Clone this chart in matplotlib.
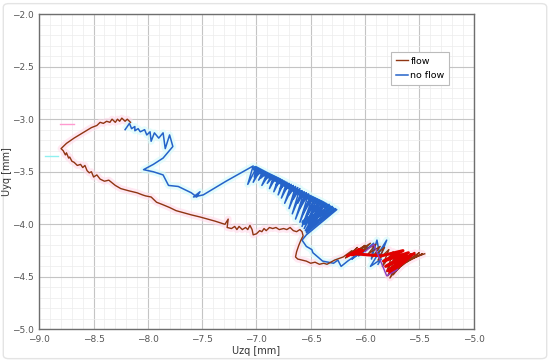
import matplotlib
matplotlib.use("Agg")
import matplotlib.pyplot as plt
from matplotlib.patches import FancyBboxPatch
from matplotlib.ticker import FuncFormatter

# ---- data ----
flow_x = [-8.16, -8.19, -8.21, -8.24, -8.26, -8.28, -8.30, -8.33, -8.35, -8.38, -8.41, -8.44, -8.47, -8.52,
          -8.60, -8.68, -8.75, -8.80,
          -8.78, -8.76, -8.75, -8.73, -8.72, -8.70, -8.68, -8.65, -8.62, -8.60, -8.58, -8.56, -8.54,
          -8.52, -8.50, -8.47, -8.44, -8.40, -8.36, -8.30, -8.25, -8.18, -8.10, -8.05, -8.02, -7.97,
          -7.92, -7.87, -7.80, -7.74, -7.67, -7.60, -7.52, -7.45, -7.38, -7.32, -7.29, -7.26, -7.27,
          -7.23, -7.20, -7.18, -7.16, -7.13, -7.10, -7.08, -7.06, -7.04, -7.03, -7.00, -6.97, -6.95,
          -6.93, -6.91, -6.88, -6.85, -6.82, -6.79, -6.75, -6.72, -6.69, -6.66, -6.63, -6.60, -6.58,
          -6.57, -6.59, -6.61, -6.63, -6.64, -6.62, -6.58, -6.54, -6.50, -6.46, -6.42, -6.38, -6.35,
          -6.28, -6.20, -6.12, -6.18, -6.07, -6.15, -6.00, -6.10, -5.95, -6.03, -5.90, -5.97, -5.86,
          -5.93, -5.82, -5.88, -5.78, -5.84, -5.74, -5.80, -5.70, -5.79, -5.66, -5.77, -5.62, -5.74,
          -5.58, -5.71, -5.54, -5.67, -5.50, -5.62, -5.47, -5.58, -5.45]
flow_y = [-3.03, -3.00, -3.02, -2.99, -3.02, -3.00, -3.03, -3.00, -3.03, -3.02, -3.04, -3.03, -3.06, -3.08,
          -3.13, -3.18, -3.23, -3.28,
          -3.30, -3.34, -3.32, -3.37, -3.36, -3.40, -3.41, -3.44, -3.43, -3.46, -3.44, -3.49, -3.51,
          -3.50, -3.55, -3.53, -3.57, -3.59, -3.58, -3.63, -3.66, -3.68, -3.70, -3.72, -3.73, -3.74,
          -3.79, -3.81, -3.84, -3.87, -3.89, -3.91, -3.93, -3.95, -3.97, -3.99, -4.00, -3.95, -4.03,
          -4.04, -4.02, -4.05, -4.02, -4.05, -4.03, -4.05, -4.01, -4.05, -4.10, -4.09, -4.06, -4.07,
          -4.04, -4.06, -4.03, -4.04, -4.03, -4.05, -4.04, -4.05, -4.03, -4.06, -4.07, -4.05, -4.07,
          -4.11, -4.15, -4.20, -4.26, -4.31, -4.33, -4.34, -4.35, -4.37, -4.36, -4.38, -4.37, -4.38,
          -4.34, -4.31, -4.25, -4.32, -4.22, -4.30, -4.20, -4.28, -4.18, -4.26, -4.19, -4.28, -4.21,
          -4.31, -4.22, -4.34, -4.24, -4.40, -4.26, -4.45, -4.27, -4.49, -4.28, -4.51, -4.29, -4.48,
          -4.28, -4.44, -4.27, -4.40, -4.27, -4.36, -4.28, -4.33, -4.28]

noflow_x = [-8.21, -8.17, -8.15, -8.12, -8.12, -8.09, -8.07, -8.03, -8.01, -7.98, -7.97, -7.94, -7.90,
            -7.86, -7.84, -7.80, -7.77, -7.86, -7.95, -8.04, -7.95, -7.86, -7.81, -7.72, -7.60, -7.55,
            -7.52, -7.58, -7.49, -7.28, -7.03,
            -7.08, -7.00, -7.02, -6.98, -7.03, -6.96, -6.99, -6.94, -6.98, -6.92, -6.96, -6.90, -6.95,
            -6.88, -6.92, -6.86, -6.90, -6.84, -6.88, -6.82, -6.86, -6.80, -6.84, -6.78, -6.82, -6.76,
            -6.80, -6.74, -6.78, -6.72, -6.77, -6.70, -6.74, -6.68, -6.74, -6.66, -6.70, -6.64, -6.70,
            -6.62, -6.66, -6.60, -6.67, -6.58, -6.62, -6.56, -6.64, -6.54, -6.60, -6.52, -6.60, -6.50,
            -6.57, -6.48, -6.58, -6.46, -6.55, -6.44, -6.56, -6.42, -6.53, -6.40, -6.55, -6.38, -6.52,
            -6.36, -6.54, -6.33, -6.52, -6.30, -6.54, -6.27, -6.52, -6.26, -6.54,
            -6.58, -6.54, -6.49, -6.48, -6.39, -6.29, -6.25, -6.22, -6.16, -6.05, -6.12,
            -5.98, -6.06, -5.92, -5.94, -5.89, -5.86, -5.80, -5.95, -5.85, -5.88]
noflow_y = [-3.10, -3.04, -3.09, -3.07, -3.11, -3.09, -3.12, -3.10, -3.15, -3.12, -3.21, -3.13, -3.18,
            -3.13, -3.28, -3.15, -3.26, -3.37, -3.43, -3.48, -3.50, -3.53, -3.63, -3.64, -3.70, -3.74,
            -3.69, -3.74, -3.72, -3.59, -3.445,
            -3.62, -3.46, -3.55, -3.47, -3.60, -3.48, -3.53, -3.49, -3.58, -3.50, -3.56, -3.51, -3.63,
            -3.52, -3.57, -3.53, -3.61, -3.54, -3.66, -3.55, -3.60, -3.56, -3.69, -3.57, -3.63, -3.58,
            -3.72, -3.59, -3.66, -3.60, -3.75, -3.61, -3.68, -3.62, -3.80, -3.63, -3.72, -3.64, -3.85,
            -3.65, -3.76, -3.66, -3.90, -3.68, -3.80, -3.69, -3.95, -3.70, -3.85, -3.71, -3.98, -3.73,
            -3.90, -3.74, -4.02, -3.75, -3.95, -3.76, -4.04, -3.77, -3.96, -3.78, -4.06, -3.79, -3.98,
            -3.80, -4.07, -3.81, -4.00, -3.83, -4.08, -3.85, -4.02, -3.86, -4.10,
            -4.15, -4.21, -4.24, -4.27, -4.35, -4.37, -4.34, -4.40, -4.35, -4.27, -4.33,
            -4.22, -4.30, -4.18, -4.33, -4.15, -4.31, -4.15, -4.40, -4.33, -4.38]

# densely overlapping body of the "no flow" oscillation (upper band)
band_x = [-7.01, -6.90, -6.80, -6.70, -6.60, -6.50, -6.40, -6.30, -6.40, -6.50, -6.56]
band_y = [-3.47, -3.53, -3.58, -3.64, -3.70, -3.75, -3.80, -3.86, -3.90, -3.94, -3.98]

red_x = [-6.16, -6.05, -6.12, -6.02, -6.10, -5.85, -5.65, -5.83, -5.60, -5.81, -5.58, -5.79, -5.60,
         -5.77, -5.62, -5.74, -5.57, -5.72, -5.55]
red_y = [-4.30, -4.24, -4.29, -4.25, -4.28, -4.30, -4.25, -4.35, -4.27, -4.40, -4.30, -4.44, -4.32,
         -4.46, -4.34, -4.43, -4.29, -4.38, -4.28]

purple_x = [-6.00, -5.92, -5.80, -5.70]
purple_y = [-4.26, -4.19, -4.49, -4.43]

x_ticks = [-9.0, -8.5, -8.0, -7.5, -7.0, -6.5, -6.0, -5.5, -5.0]
y_ticks = [-5.0, -4.5, -4.0, -3.5, -3.0, -2.5, -2.0]

# ---- figure ----
fig = plt.figure(figsize=(5.5, 3.63), dpi=100)
card = FancyBboxPatch((0.006, 0.012), 0.988, 0.978, boxstyle="round,pad=0,rounding_size=0.01",
                      transform=fig.transFigure, facecolor="none", edgecolor="#e4e4e4", lw=1,
                      zorder=-10)
fig.patches.append(card)

ax = fig.add_axes([0.0715, 0.0923, 0.7895, 0.8691])
ax.set_zorder(5)
ax.set_xlim(-9, -5)
ax.set_ylim(-5, -2)

# light shadows
ax.plot(flow_x, flow_y, color="#ffd9ea", lw=5, solid_capstyle="butt", zorder=2, alpha=0.6)
ax.plot(noflow_x, noflow_y, color="#d2fbfb", lw=5, solid_capstyle="butt", zorder=2, alpha=0.6)
ax.plot([-8.81, -8.68], [-3.05, -3.05], color="#ff9ad0", lw=1, zorder=2)
ax.plot([-8.95, -8.83], [-3.35, -3.35], color="#8ff0f0", lw=1, zorder=2)

ax.plot(band_x, band_y, color="#1f6bd0", lw=4.0, zorder=3, solid_capstyle="round")
ax.plot(noflow_x, noflow_y, color="#2563c9", lw=1.1, zorder=3, label="no flow")
ax.plot(flow_x, flow_y, color="#8f3512", lw=1.0, zorder=4, label="flow")
ax.plot(red_x, red_y, color="#e00000", lw=2.2, zorder=5)
ax.plot(purple_x, purple_y, color="#8a3fc0", lw=1.0, zorder=5)

fmt = FuncFormatter(lambda v, p: f"{v:.1f}".replace("-", "\u2212"))
ax.set_xticks(x_ticks)
ax.set_yticks(y_ticks)
ax.set_xticks([-9 + 0.1 * i for i in range(41)], minor=True)
ax.set_yticks([-5 + 0.1 * i for i in range(31)], minor=True)
ax.xaxis.set_major_formatter(fmt)
ax.yaxis.set_major_formatter(fmt)
ax.tick_params(which="both", length=0, labelsize=6.5, labelcolor="#555555", pad=4)
ax.grid(which="major", color="#c4c4c4", lw=0.8)
ax.grid(which="minor", color="#ececec", lw=0.5)
ax.set_axisbelow(True)
for s in ax.spines.values():
    s.set_color("#6e6e6e")
    s.set_linewidth(1.0)

ax.set_xlabel("Uzq [mm]", fontsize=7, color="#333333")
ax.set_ylabel("Uyq [mm]", fontsize=7, color="#333333")
ax.xaxis.set_label_coords(0.5, -0.052)
ax.yaxis.set_label_coords(-0.062, 0.5)

h, l = ax.get_legend_handles_labels()
leg = ax.legend([h[1], h[0]], [l[1], l[0]], loc="upper left", bbox_to_anchor=(0.80, 0.895),
                fontsize=6.8, handlelength=1.3, handletextpad=0.2, borderpad=0.5,
                fancybox=False, edgecolor="#bbbbbb", framealpha=1, labelspacing=0.6)
leg.get_frame().set_linewidth(0.8)

fig.savefig("out.png", dpi=100)
